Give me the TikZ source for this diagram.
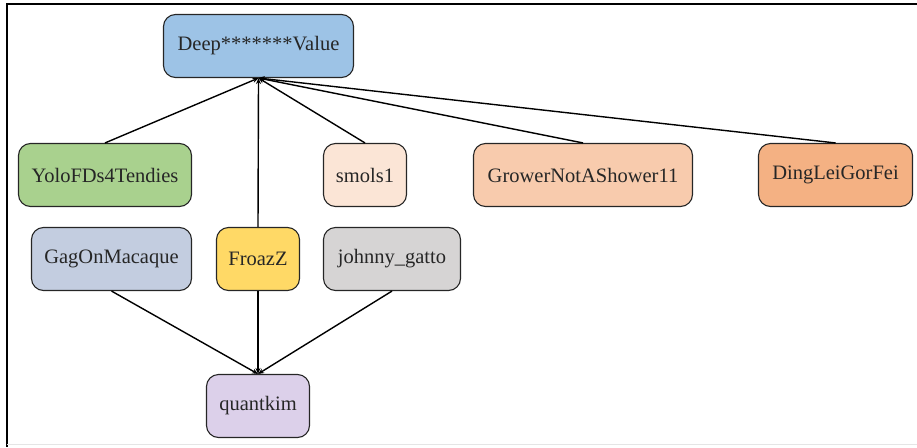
\documentclass[tikz,border=0pt]{standalone}
\usepackage{fontspec}
\setmainfont{LiberationSerif}[Extension=.ttf, UprightFont=*-Regular]
\usetikzlibrary{arrows.meta}
\definecolor{cDeep}{HTML}{9DC3E6}
\definecolor{cYolo}{HTML}{A9D18E}
\definecolor{cSmols}{HTML}{FBE5D6}
\definecolor{cGrower}{HTML}{F8CBAD}
\definecolor{cDing}{HTML}{F4B183}
\definecolor{cGag}{HTML}{C3CDE0}
\definecolor{cFroaz}{HTML}{FFD966}
\definecolor{cJohnny}{HTML}{D6D4D4}
\definecolor{cQuant}{HTML}{DCD0EA}
\tikzstyle{member}=[draw=black!85, rounded corners=12pt, line width=1.1pt,
                   minimum height=63pt, inner sep=0pt,
                   font=\fontsize{20.5}{24}\selectfont, text=black!85]

\begin{document}
\begin{tikzpicture}[x=1pt, y=-1pt, >={Stealth[length=6pt,width=5pt]}]
      \useasboundingbox (0,0) rectangle (917,447);
      % Frame of the screenshot
      \draw[line width=1.2pt] (7,447) -- (7,4) -- (917,4);
      \draw[black!10] (7,444.5) -- (917,444.5);
      %
      % Place the accounts
      \foreach \place/\name/\w/\col/\txt in {{(258.5,46)/deep/190/cDeep/Deep*******Value},
          {(105,175)/yolo/173/cYolo/YoloFDs4Tendies}, {(365,175)/smols/83/cSmols/smols1},
          {(583,175)/grower/219/cGrower/GrowerNotAShower11}, {(835.5,175)/ding/154/cDing/DingLeiGorFei},
          {(111.5,259)/gag/160/cGag/GagOnMacaque}, {(258,259)/froaz/83/cFroaz/FroazZ},
          {(392,259)/johnny/137/cJohnny/johnny\_gatto}, {(258,406)/quant/103/cQuant/quantkim}}
        \node[member, fill=\col, minimum width=\w] (\name) at \place {\txt};
      %
      % Connect them
      \foreach \source in {yolo, smols, grower, ding, froaz}
        \draw[->, line width=1.4pt] (\source.north) -- (deep.south);
      \foreach \source in {gag, froaz, johnny}
        \draw[->, line width=1.4pt] (\source.south) -- (quant.north);
\end{tikzpicture}
\end{document}
